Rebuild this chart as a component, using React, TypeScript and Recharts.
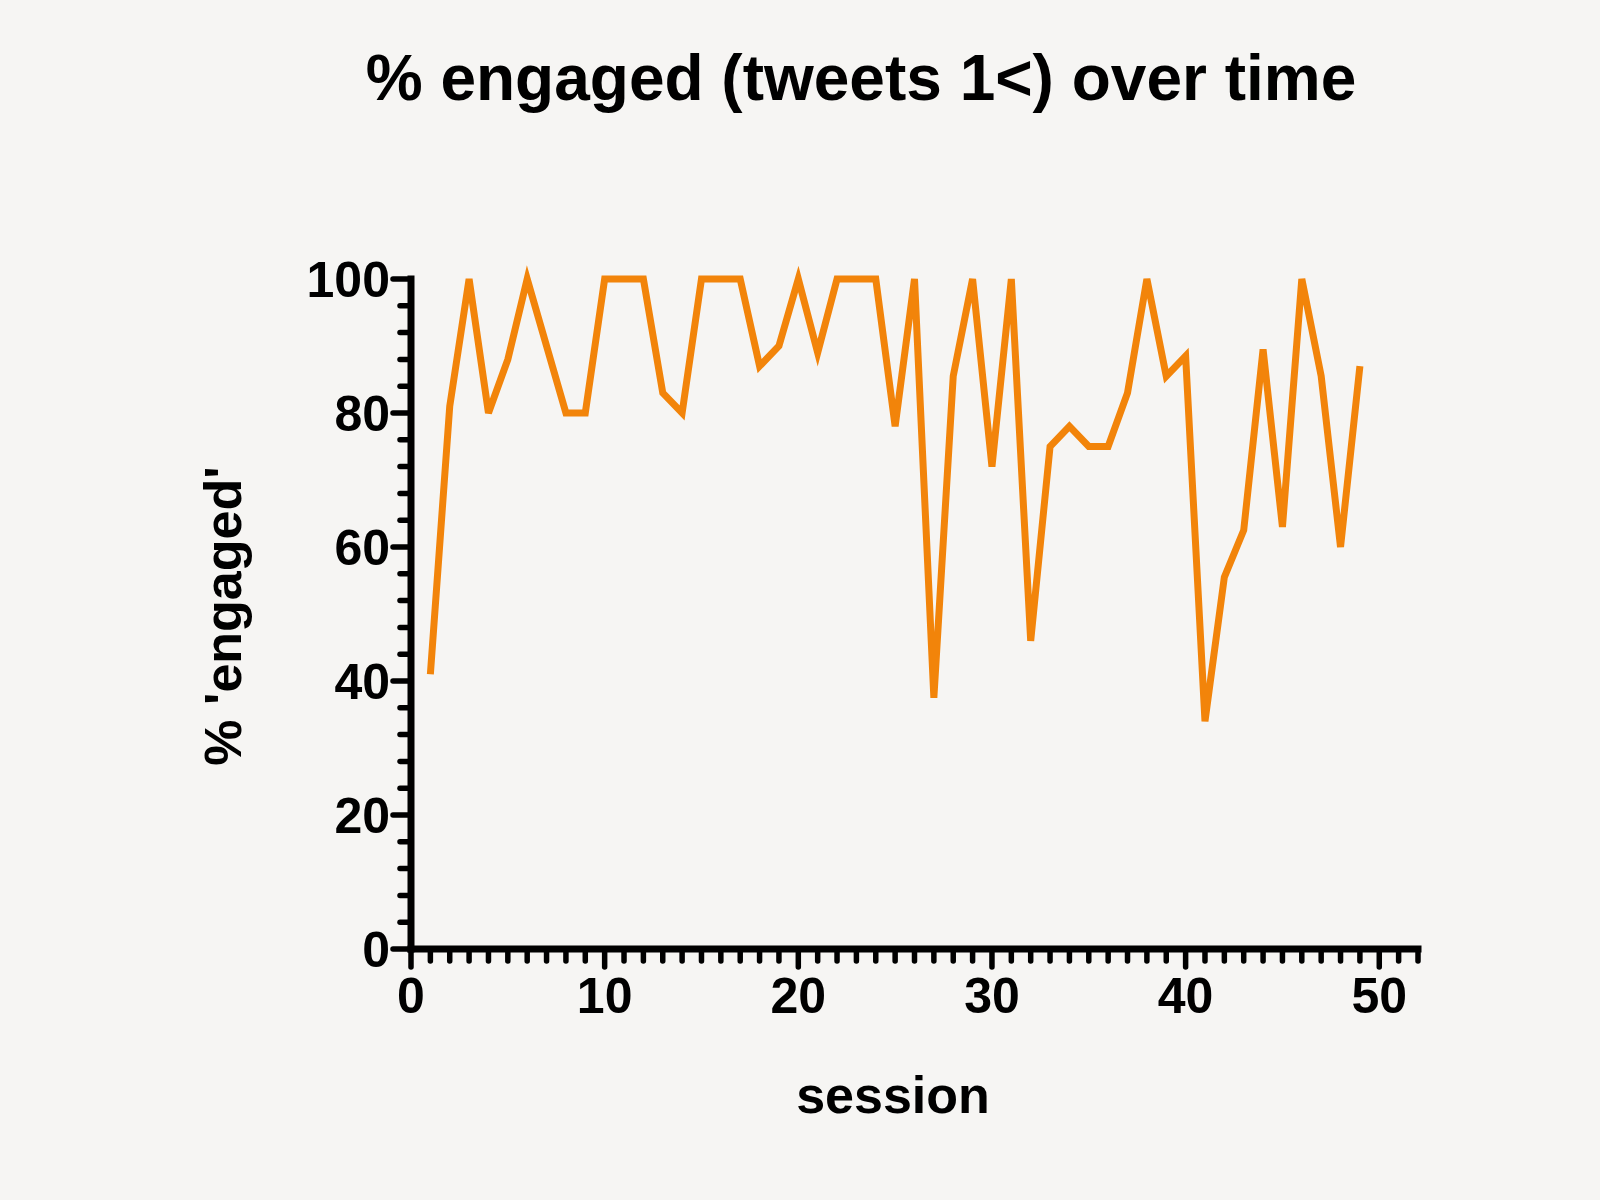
import { LineChart, Line, XAxis, YAxis } from "recharts";

const sessions = [
  1, 2, 3, 4, 5, 6, 7, 8, 9, 10, 11, 12, 13, 14, 15, 16, 17, 18, 19, 20, 21, 22, 23, 24, 25,
  26, 27, 28, 29, 30, 31, 32, 33, 34, 35, 36, 37, 38, 39, 40, 41, 42, 43, 44, 45, 46, 47, 48, 49,
];
const engaged = [
  41, 81, 100, 80, 88, 100, 90, 80, 80, 100, 100, 100, 83, 80, 100, 100, 100, 87, 90, 100, 89, 100, 100, 100, 78,
  100, 37.5, 85.5, 100, 72, 100, 46, 75, 78, 75, 75, 83, 100, 85.5, 88.5, 34, 55.5, 62.5, 89.5, 63, 100, 85.5, 60, 87,
];
const xTicks = Array.from({ length: 53 }, (_, i) => i);
const yTicks = Array.from({ length: 26 }, (_, i) => i * 4);

const data = sessions.map((s, i) => ({ session: s, value: engaged[i] }));

const FONT = "'Liberation Sans', Arial, Helvetica, sans-serif";
const BG = "#f6f5f3";
const ORANGE = "#f2840a";

const XTick = ({ x, y, payload }: any) => {
  const major = payload.value % 10 === 0;
  return (
    <g>
      <line x1={x} x2={x} y1={y} y2={y + (major ? 18 : 12)} stroke="#000" strokeWidth={5.5} strokeLinecap="round" />
      {major && (
        <text x={x} y={y + 64} textAnchor="middle" fontFamily={FONT} fontWeight="bold" fontSize={50} fill="#000">
          {payload.value}
        </text>
      )}
    </g>
  );
};

const YTick = ({ x, y, payload }: any) => {
  const major = payload.value % 20 === 0;
  return (
    <g>
      <line x1={x} x2={x - (major ? 18 : 11)} y1={y} y2={y} stroke="#000" strokeWidth={5.5} strokeLinecap="round" />
      {major && (
        <text x={x - 21} y={y} dy="0.36em" textAnchor="end" fontFamily={FONT} fontWeight="bold" fontSize={50} fill="#000">
          {payload.value}
        </text>
      )}
    </g>
  );
};

export default function App() {
  return (
    <div style={{ position: "fixed", left: 0, top: 0, width: 1600, height: 1200, background: BG }}>
      <LineChart width={1600} height={1200} data={data} margin={{ top: 279, right: 182, left: 311, bottom: 191 }}>
        <XAxis
          dataKey="session"
          type="number"
          domain={[0, 52]}
          ticks={xTicks}
          interval={0}
          height={60}
          tickSize={0}
          tickMargin={0}
          tickLine={false}
          axisLine={{ stroke: "#000", strokeWidth: 7, strokeLinecap: "square" }}
          tick={<XTick />}
        />
        <YAxis
          type="number"
          domain={[0, 100]}
          ticks={yTicks}
          interval={0}
          width={100}
          tickSize={0}
          tickMargin={0}
          tickLine={false}
          axisLine={{ stroke: "#000", strokeWidth: 7, strokeLinecap: "square" }}
          tick={<YTick />}
        />
        <Line
          type="linear"
          dataKey="value"
          stroke={ORANGE}
          strokeWidth={7}
          dot={false}
          activeDot={false}
          isAnimationActive={false}
        />
      </LineChart>
      <svg width={1600} height={1200} style={{ position: "absolute", left: 0, top: 0, pointerEvents: "none" }}>
        <text x={861} y={100} textAnchor="middle" fontFamily={FONT} fontWeight="bold" fontSize={64} fill="#000">
          % engaged (tweets 1&lt;) over time
        </text>
        <text x={893} y={1113} textAnchor="middle" fontFamily={FONT} fontWeight="bold" fontSize={52} fill="#000">
          session
        </text>
        <text
          x={241}
          y={616}
          transform="rotate(-90 241 616)"
          textAnchor="middle"
          fontFamily={FONT}
          fontWeight="bold"
          fontSize={52}
          fill="#000"
        >
          % 'engaged'
        </text>
      </svg>
    </div>
  );
}
